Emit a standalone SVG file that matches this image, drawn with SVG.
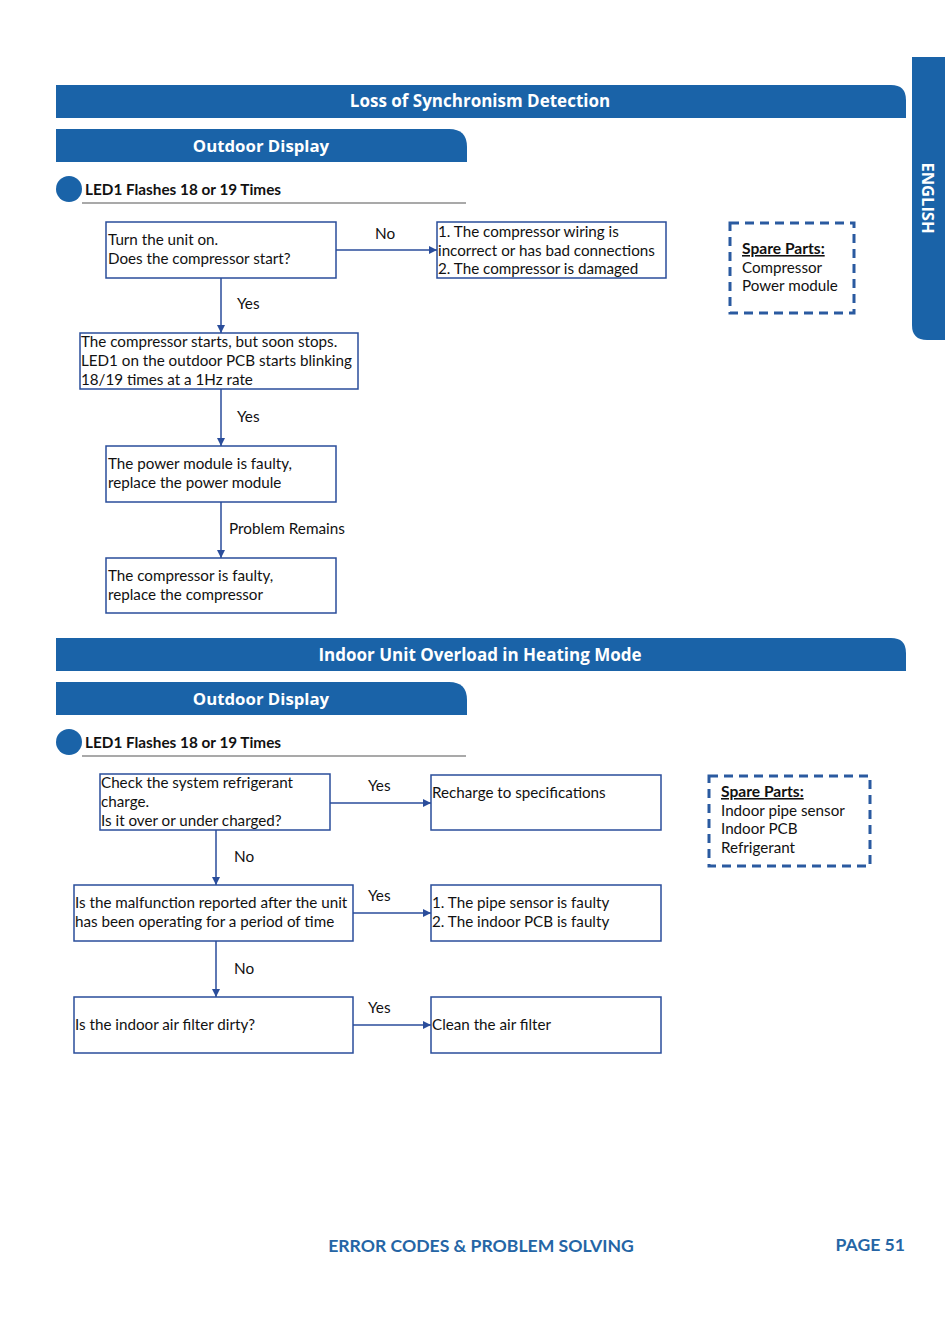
<svg xmlns="http://www.w3.org/2000/svg" width="950" height="1337" viewBox="0 0 950 1337">
<defs>
<marker id="ah" viewBox="0 0 10 10" refX="10" refY="5" markerWidth="8" markerHeight="8" markerUnits="userSpaceOnUse" orient="auto">
<path d="M0,0 L10,5 L0,10 z" fill="#2a4d9b"/>
</marker>
<style>
.hdr{fill:#1a63a8}
.ht{font-family:"Open Sans","Lato",sans-serif;font-weight:bold;fill:#fff;text-anchor:middle}
.box{fill:#fff;stroke:#2a4d9b;stroke-width:1.5}
.dash{fill:none;stroke:#2a5aa0;stroke-width:3;stroke-dasharray:9,6}
.t{font-family:"Lato","Noto Sans",sans-serif;font-size:15.2px;fill:#111}
.lbl{font-family:"Lato","Noto Sans",sans-serif;font-size:15.3px;fill:#111}
.led{font-family:"Lato","Open Sans",sans-serif;font-weight:bold;font-size:15.3px;fill:#111}
.sp{font-family:"Lato","Open Sans",sans-serif;font-weight:bold;font-size:15.6px;fill:#111}
.con{stroke:#2a4d9b;stroke-width:1.5;fill:none;marker-end:url(#ah)}
.ft{font-family:"Lato","Open Sans",sans-serif;font-weight:bold;font-size:17.6px;fill:#2565a5}
</style>
</defs>
<rect width="950" height="1337" fill="#fff"/>

<g id="english-tab">
<path class="hdr" d="M912,57 H945 V340 H927 Q912,340 912,325 Z"/>
<text class="ht" font-size="16.5" transform="translate(922,198) rotate(90)">ENGLISH</text>
</g>

<g id="section1-header">
<path class="hdr" d="M56,85 H891 Q906,85 906,100 V118 H56 Z"/>
<text class="ht" x="480" y="107" font-size="17">Loss of Synchronism Detection</text>
</g>
<g id="section1-outdoor">
<path class="hdr" d="M56,129 H449 Q467,129 467,147 V162 H56 Z"/>
<text class="ht" x="261" y="152" font-size="16.8">Outdoor Display</text>
</g>
<g id="section1-led">
<circle cx="69" cy="189" r="13" fill="#1a63a8"/>
<text class="led" x="85" y="195">LED1 Flashes 18 or 19 Times</text>
<line x1="82" y1="203" x2="466" y2="203" stroke="#555" stroke-width="1.2"/>
</g>

<g id="connectors1">
<line class="con" x1="336" y1="250" x2="437" y2="250"/>
<line class="con" x1="221" y1="278" x2="221" y2="333"/>
<line class="con" x1="221" y1="389" x2="221" y2="446"/>
<line class="con" x1="221" y1="502" x2="221" y2="558"/>
<text class="lbl" x="375" y="239">No</text>
<text class="lbl" x="237" y="309">Yes</text>
<text class="lbl" x="237" y="422">Yes</text>
<text class="lbl" x="229" y="534">Problem Remains</text>
</g>

<g id="n1">
<rect class="box" x="106" y="222" width="230" height="56"/>
<text class="t" x="108" y="245">Turn the unit on.</text>
<text class="t" x="108" y="264">Does the compressor start?</text>
</g>
<g id="n2">
<rect class="box" x="437" y="222" width="229" height="56"/>
<text class="t" x="438" y="237">1. The compressor wiring is</text>
<text class="t" x="438" y="256">incorrect or has bad connections</text>
<text class="t" x="438" y="274">2. The compressor is damaged</text>
</g>
<g id="spare1">
<rect class="dash" x="730" y="223" width="124" height="90"/>
<text class="sp" x="742" y="254" text-decoration="underline">Spare Parts:</text>
<text class="t" x="742" y="273">Compressor</text>
<text class="t" x="742" y="291">Power module</text>
</g>
<g id="n3">
<rect class="box" x="80" y="333" width="278" height="56"/>
<text class="t" x="81" y="347">The compressor starts, but soon stops.</text>
<text class="t" x="81" y="366">LED1 on the outdoor PCB starts blinking</text>
<text class="t" x="81" y="385">18/19 times at a 1Hz rate</text>
</g>
<g id="n4">
<rect class="box" x="106" y="446" width="230" height="56"/>
<text class="t" x="108" y="469">The power module is faulty,</text>
<text class="t" x="108" y="488">replace the power module</text>
</g>
<g id="n5">
<rect class="box" x="106" y="558" width="230" height="55"/>
<text class="t" x="108" y="581">The compressor is faulty,</text>
<text class="t" x="108" y="600">replace the compressor</text>
</g>

<g id="section2-header">
<path class="hdr" d="M56,638 H891 Q906,638 906,653 V671 H56 Z"/>
<text class="ht" x="480" y="661" font-size="17">Indoor Unit Overload in Heating Mode</text>
</g>
<g id="section2-outdoor">
<path class="hdr" d="M56,682 H449 Q467,682 467,700 V715 H56 Z"/>
<text class="ht" x="261" y="705" font-size="16.8">Outdoor Display</text>
</g>
<g id="section2-led">
<circle cx="69" cy="742" r="13" fill="#1a63a8"/>
<text class="led" x="85" y="748">LED1 Flashes 18 or 19 Times</text>
<line x1="82" y1="756" x2="466" y2="756" stroke="#555" stroke-width="1.2"/>
</g>

<g id="connectors2">
<line class="con" x1="330" y1="803" x2="431" y2="803"/>
<line class="con" x1="216" y1="830" x2="216" y2="885"/>
<line class="con" x1="353" y1="913" x2="431" y2="913"/>
<line class="con" x1="216" y1="941" x2="216" y2="997"/>
<line class="con" x1="353" y1="1025" x2="431" y2="1025"/>
<text class="lbl" x="368" y="791">Yes</text>
<text class="lbl" x="234" y="862">No</text>
<text class="lbl" x="368" y="901">Yes</text>
<text class="lbl" x="234" y="974">No</text>
<text class="lbl" x="368" y="1013">Yes</text>
</g>

<g id="m1">
<rect class="box" x="100" y="774" width="230" height="56"/>
<text class="t" x="101" y="788">Check the system refrigerant</text>
<text class="t" x="101" y="807">charge.</text>
<text class="t" x="101" y="826">Is it over or under charged?</text>
</g>
<g id="m2">
<rect class="box" x="431" y="775" width="230" height="55"/>
<text class="t" x="432" y="798">Recharge to specifications</text>
</g>
<g id="spare2">
<rect class="dash" x="709" y="776" width="161" height="90"/>
<text class="sp" x="721" y="797" text-decoration="underline">Spare Parts:</text>
<text class="t" x="721" y="816">Indoor pipe sensor</text>
<text class="t" x="721" y="834">Indoor PCB</text>
<text class="t" x="721" y="853">Refrigerant</text>
</g>
<g id="m3">
<rect class="box" x="74" y="885" width="279" height="56"/>
<text class="t" x="75" y="908">Is the malfunction reported after the unit</text>
<text class="t" x="75" y="927">has been operating for a period of time</text>
</g>
<g id="m4">
<rect class="box" x="431" y="885" width="230" height="56"/>
<text class="t" x="432" y="908">1. The pipe sensor is faulty</text>
<text class="t" x="432" y="927">2. The indoor PCB is faulty</text>
</g>
<g id="m5">
<rect class="box" x="74" y="997" width="279" height="56"/>
<text class="t" x="75" y="1030">Is the indoor air filter dirty?</text>
</g>
<g id="m6">
<rect class="box" x="431" y="997" width="230" height="56"/>
<text class="t" x="432" y="1030">Clean the air filter</text>
</g>

<g id="footer">
<text class="ft" x="481" y="1252" text-anchor="middle">ERROR CODES &amp; PROBLEM SOLVING</text>
<text class="ft" x="905" y="1251" text-anchor="end" fill="#3a6aa8" font-size="17">PAGE 51</text>
</g>
</svg>
